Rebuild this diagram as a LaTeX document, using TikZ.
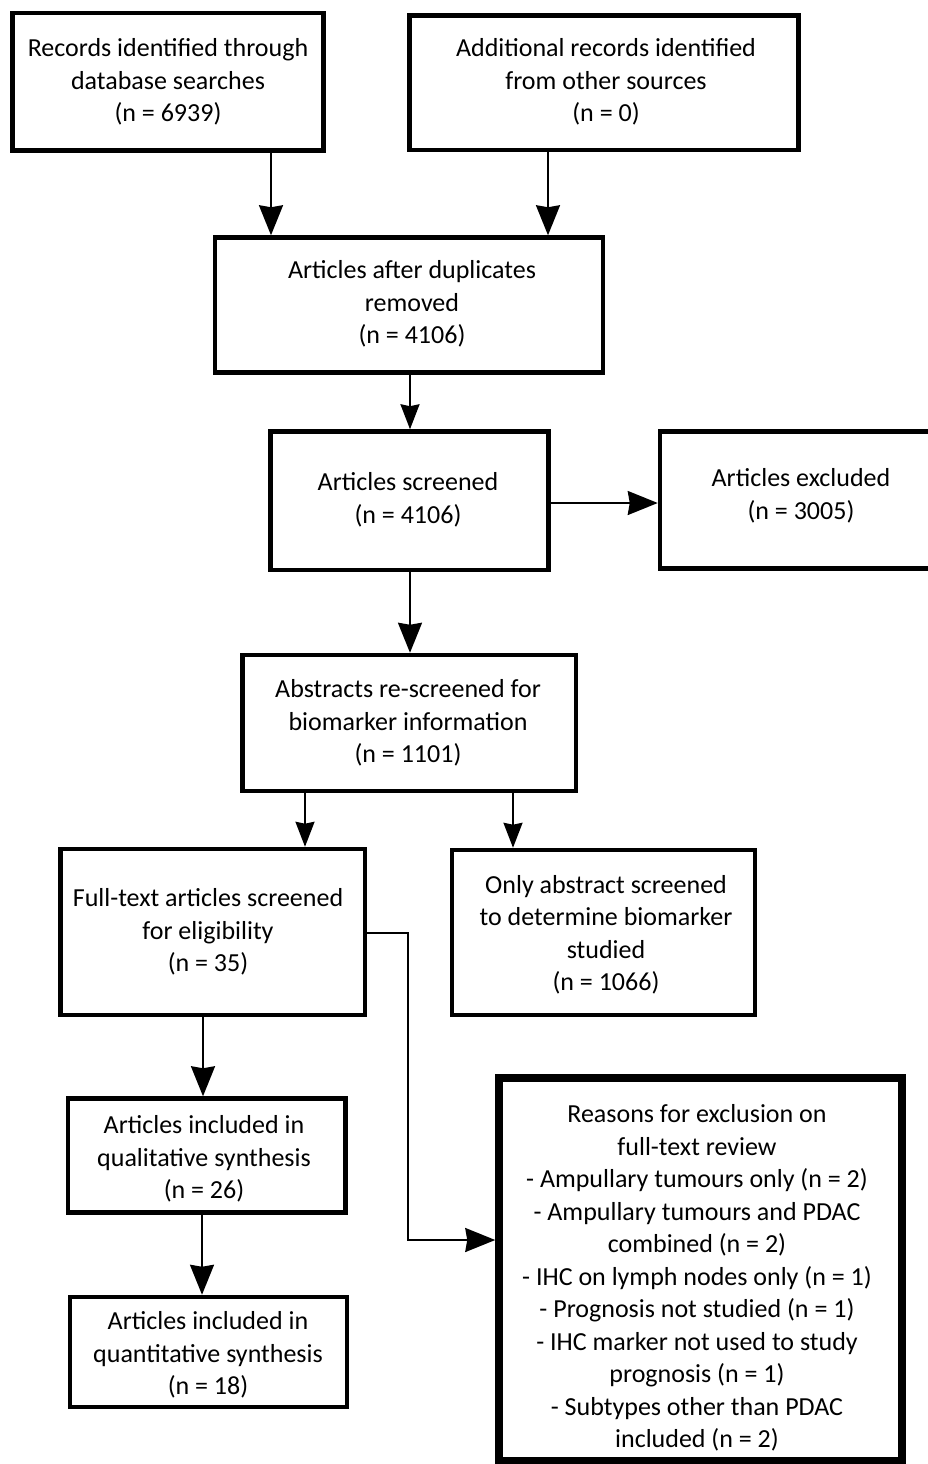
\documentclass[tikz,border=0pt]{standalone}
\usepackage{fontspec}
\setmainfont{Carlito}
\usetikzlibrary{arrows.meta}
\tikzset{
  box/.style={draw=black, line width=4.5pt, rectangle, inner sep=0pt, fill=none},
  bigbox/.style={box, line width=7.5pt},
  txt/.style={align=center, inner sep=0pt, yshift=-2pt, font=\fontsize{26}{32.5}\selectfont},
  conn/.style={line width=2pt},
  arr/.style={conn, -{Stealth[length=30pt,width=24pt,inset=2pt]}},
  arrs/.style={conn, -{Stealth[length=25pt,width=19pt,inset=2pt]}},
}
\newcommand\mkbox[6][box]{\node[#1, minimum width={#4-#2}, minimum height={#5-#3}] (#6) at ({(#2+#4)/2},{(#3+#5)/2}) {};}
\begin{document}
\begin{tikzpicture}[x=1pt,y=-1pt]
\useasboundingbox[fill=white] (0,0) rectangle (928,1464);
% boxes
\mkbox{12.5}{13}{323.5}{150.5}{b1}
\mkbox{409.5}{15.5}{798.5}{150}{b2}
\mkbox{215}{237.5}{603}{372.5}{b3}
\mkbox{270.5}{431.5}{548.5}{570}{b4}
\mkbox{660}{431.5}{945}{568.5}{b5}
\mkbox{242.5}{655}{576}{791}{b6}
\mkbox{60.5}{849}{365}{1015}{b7}
\mkbox{452}{850}{755}{1015}{b8}
\mkbox[bigbox]{499}{1078}{902}{1461}{b9}
\mkbox{68}{1098.5}{345.5}{1212.5}{b10}
\mkbox{70}{1297}{347}{1407}{b11}
% texts
\node[txt] (t1) at (168,80) {Records identified through\\database searches\\(n = 6939)};
\node[txt] (t2) at (606,80) {Additional records identified\\from other sources\\(n = 0)};
\node[txt] (t3) at (412,302) {Articles after duplicates\\removed\\(n = 4106)};
\node[txt] (t4) at (408,498) {Articles screened\\(n = 4106)};
\node[txt] (t5) at (801,494) {Articles excluded\\(n = 3005)};
\node[txt] (t6) at (408,721) {Abstracts re-screened for\\biomarker information\\(n = 1101)};
\node[txt] (t7) at (208,930) {Full-text articles screened\\for eligibility\\(n = 35)};
\node[txt] (t8) at (606,933) {Only abstract screened\\to determine biomarker\\studied\\(n = 1066)};
\node[txt] (t9) at (697,1276) {Reasons for exclusion on\\full-text review\\- Ampullary tumours only (n = 2)\\- Ampullary tumours and PDAC\\combined (n = 2)\\- IHC on lymph nodes only (n = 1)\\- Prognosis not studied (n = 1)\\- IHC marker not used to study\\prognosis (n = 1)\\- Subtypes other than PDAC\\included (n = 2)};
\node[txt] (t10) at (204,1157) {Articles included in\\qualitative synthesis\\(n = 26)};
\node[txt] (t11) at (208,1353) {Articles included in\\quantitative synthesis\\(n = 18)};
% guide coordinates
\coordinate (x271) at (271,0);
\coordinate (x548) at (548,0);
\coordinate (x410) at (410,0);
\coordinate (x305) at (305,0);
\coordinate (x513) at (513,0);
\coordinate (x203) at (203,0);
\coordinate (x202) at (202,0);
\coordinate (y503) at (0,503);
\coordinate (k1) at (407.5,933);
\coordinate (k2) at (407.5,1240);
% connectors
\draw[arr] (x271 |- b1.south) -- (x271 |- b3.north);
\draw[arr] (x548 |- b2.south) -- (x548 |- b3.north);
\draw[arrs] (x410 |- b3.south) -- (x410 |- b4.north);
\draw[arr] (b4.east |- y503) -- (b5.west |- y503);
\draw[arr] (x410 |- b4.south) -- (x410 |- b6.north);
\draw[arrs] (x305 |- b6.south) -- (x305 |- b7.north);
\draw[arrs] (x513 |- b6.south) -- (x513 |- b8.north);
\draw[arr] (b7.east |- k1) -- (k1) -- (k2) -- (b9.west |- k2);
\draw[arr] (x203 |- b7.south) -- (x203 |- b10.north);
\draw[arr] (x202 |- b10.south) -- (x202 |- b11.north);
\end{tikzpicture}
\end{document}
